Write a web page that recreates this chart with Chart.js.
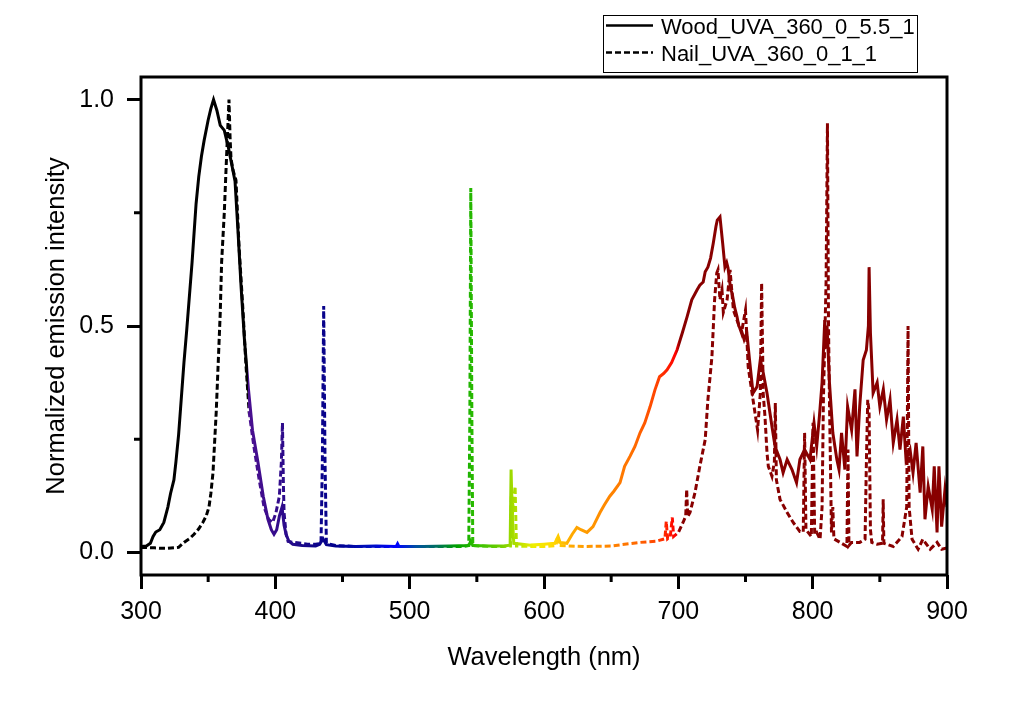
<!DOCTYPE html>
<html>
<head>
<meta charset="utf-8">
<script src="https://cdn.jsdelivr.net/npm/chart.js@4.4.1/dist/chart.umd.min.js"></script>
<style>
  body { margin: 0; background: #fff; }
  #wrap { width: 1028px; height: 720px; }
</style>
</head>
<body>
<div id="wrap"><canvas id="spektrum"></canvas></div>
<script>
// Wood lamp (solid) - [wavelength nm, normalized intensity]
const woodSpectrum = [
  [300,0.013],[304,0.014],[307,0.02],[309,0.035],[311,0.045],[314,0.05],[317,0.066],[320,0.1],[322,0.13],[324.5,0.16],
  [326,0.2],[328,0.26],[330,0.34],[332,0.42],[334,0.49],[336,0.565],[338,0.64],[339.5,0.705],[341,0.77],[343,0.83],
  [345,0.875],[347,0.91],[350,0.955],[352,0.98],[354,1.0],[356.5,0.976],[359,0.943],[362,0.932],[365,0.895],[368,0.85],
  [370,0.82],[372,0.72],[374.5,0.587],[377,0.47],[380,0.36],[383,0.27],[387,0.2],[391,0.124],[394.5,0.073],[397,0.05],
  [399,0.04],[401,0.05],[403,0.08],[405,0.1],[406.5,0.06],[408,0.04],[410,0.025],[413,0.018],[420,0.015],[430,0.014],
  [433,0.018],[435.5,0.03],[438,0.017],[445,0.014],[460,0.013],[475,0.014],[490,0.013],[491,0.019],[492,0.013],[510,0.013],
  [530,0.014],[544,0.015],[545.5,0.025],[547,0.015],[560,0.014],[570,0.014],[574.8,0.016],[575.5,0.183],[576.3,0.09],[577.5,0.02],
  [590,0.016],[600,0.018],[608,0.02],[610.5,0.035],[612,0.022],[617,0.02],[621,0.04],[624.5,0.055],[627.5,0.05],[632,0.044],
  [636.5,0.057],[641.7,0.088],[645,0.105],[649,0.124],[652,0.135],[656.6,0.154],[660,0.19],[664,0.212],[667.7,0.234],[671.5,0.264],
  [675,0.286],[679,0.322],[682.6,0.359],[686,0.388],[689,0.395],[691.6,0.403],[695,0.419],[699,0.447],[703,0.485],[706.5,0.52],
  [710,0.558],[714,0.58],[716,0.59],[718.5,0.597],[720,0.62],[722,0.63],[724,0.65],[726,0.683],[728,0.72],[729,0.734],
  [731,0.741],[733,0.683],[734.7,0.63],[736,0.64],[737,0.628],[739,0.58],[740,0.573],[742,0.54],[743.7,0.52],[745,0.5],
  [747,0.49],[749,0.47],[751,0.485],[753,0.425],[755.6,0.352],[758.6,0.366],[761,0.425],[763,0.4],[766,0.352],[769.7,0.278],
  [772,0.234],[775.7,0.205],[778,0.176],[781,0.205],[784.6,0.183],[788,0.154],[790.5,0.205],[794,0.227],[798,0.205],[801,0.286],
  [803,0.234],[805,0.3],[807,0.375],[809,0.513],[810,0.45],[810.7,0.5],[812.5,0.375],[815,0.264],[818,0.205],[819.6,0.183],
  [821.5,0.264],[824,0.183],[826,0.322],[829,0.27],[831.5,0.36],[833,0.212],[835,0.322],[837.6,0.425],[840,0.447],[841.5,0.5],
  [842,0.63],[843,0.485],[845,0.352],[848,0.375],[850,0.322],[852.6,0.36],[855,0.293],[857.6,0.337],[860,0.242],[862.8,0.293],
  [865,0.227],[867.5,0.3],[869.5,0.205],[872.5,0.227],[874.7,0.176],[877,0.242],[880,0.132],[882,0.234],[883.6,0.073],[886,0.146],
  [889,0.095],[890.5,0.19],[892.6,0.044],[894,0.19],[896,0.057],[898.5,0.139],[900,0.1]
];

// Nail (dashed)
const nailSpectrum = [
  [300,0.011],[310,0.01],[315,0.009],[320,0.009],[328,0.011],[332,0.022],[336,0.03],[339.5,0.04],[343,0.052],[346,0.066],
  [348.5,0.08],[350.6,0.1],[352,0.13],[353.6,0.176],[356,0.31],[357.5,0.42],[359,0.53],[360,0.64],[362,0.75],[363.5,0.86],
  [364.5,0.93],[365.5,1.0],[366.3,0.917],[367,0.87],[368.5,0.844],[370.7,0.822],[373,0.675],[376,0.53],[378,0.42],[380.5,0.31],
  [384,0.234],[388,0.16],[391.6,0.1],[395,0.073],[398,0.066],[400.5,0.088],[403,0.124],[404.5,0.2],[405.3,0.286],[406,0.15],
  [406.5,0.088],[408,0.04],[409.5,0.024],[414,0.022],[424,0.018],[430,0.018],[434,0.02],[435,0.2],[436,0.544],[437,0.2],
  [438,0.02],[445,0.015],[460,0.013],[480,0.013],[500,0.013],[520,0.013],[540,0.013],[544,0.015],[544.8,0.3],[545.5,0.805],
  [546.3,0.3],[547,0.015],[560,0.013],[570,0.013],[575,0.014],[575.7,0.13],[577,0.1],[578.5,0.146],[579.5,0.014],[590,0.013],
  [600,0.013],[609,0.015],[610,0.035],[611,0.015],[630,0.013],[650,0.014],[671.5,0.022],[684,0.025],[690,0.03],[691,0.068],
  [692,0.03],[694,0.035],[695.5,0.077],[696.5,0.035],[700,0.044],[703.5,0.066],[705.5,0.08],[706.2,0.139],[707,0.079],[708.7,0.088],
  [712.4,0.132],[716,0.19],[720,0.249],[722,0.337],[725,0.432],[727,0.558],[728.6,0.617],[729.5,0.624],[731,0.558],[732.5,0.58],
  [733.5,0.53],[736.3,0.558],[738.5,0.624],[741,0.535],[743.7,0.513],[747,0.485],[750,0.535],[752,0.41],[755.6,0.337],[759,0.27],
  [761,0.35],[762,0.595],[763.2,0.35],[764.5,0.3],[766,0.22],[767,0.19],[769.7,0.168],[771.5,0.2],[772.2,0.33],[773,0.16],
  [775.7,0.117],[781,0.088],[785.5,0.066],[790.5,0.046],[793,0.045],[794,0.264],[795,0.05],[796.6,0.044],[799,0.035],[800.3,0.286],
  [801.5,0.04],[803,0.044],[805.5,0.029],[807,0.1],[808,0.337],[810,0.6],[811,0.948],[811.8,0.5],[812.5,0.337],[814,0.044],
  [815,0.1],[815.8,0.03],[820.4,0.022],[825.5,0.013],[826.3,0.227],[827,0.015],[829,0.022],[835,0.022],[839,0.029],[840,0.2],
  [841,0.337],[842,0.31],[843,0.05],[844,0.022],[848,0.018],[852,0.02],[852.5,0.117],[853,0.02],[860,0.013],[866.5,0.035],
  [870,0.1],[871,0.5],[871.8,0.1],[874,0.029],[878.5,0.007],[882,0.029],[887.5,0.007],[892.6,0.022],[896,0.007],[900,0.01]
];

const xTicks = [300, 400, 500, 600, 700, 800, 900];
const xMinor = [350, 450, 550, 650, 750, 850];
const yTicks = [0, 0.5, 1.0];
const yMinor = [0.25, 0.75];

// Spektralfarben entlang der x-Achse
const specWl = [300, 379.5, 380, 395, 420, 445, 470, 490, 505, 520, 535, 550, 565, 578, 592, 605, 620, 640, 665, 685, 698, 701, 900];
const specColors = ['#000000', '#000000', '#4a1090', '#3c0c8c', '#1a0a8a', '#00008c', '#0010c0', '#0000ff', '#0050a0', '#007060',
  '#00a000', '#33c000', '#66cc00', '#aadd00', '#eeee00', '#ffdd00', '#ffaa00', '#ff9000', '#ff7000', '#ff4000', '#ff0000', '#880000', '#880000'];

const font = "'Liberation Sans', Arial, sans-serif";

let gradient = null;
let gradientKey = '';
function spectrumColor(context) {
  const chart = context.chart;
  const area = chart.chartArea;
  if (!area) return '#000';
  const key = area.left + '_' + area.right;
  if (!gradient || gradientKey !== key) {
    const xs = chart.scales.x;
    const x0 = xs.getPixelForValue(300);
    const x1 = xs.getPixelForValue(900);
    gradient = chart.ctx.createLinearGradient(x0, 0, x1, 0);
    specWl.forEach((wl, i) => gradient.addColorStop((wl - 300) / 600, specColors[i]));
    gradientKey = key;
  }
  return gradient;
}

// Rahmen, Nebenstriche und Legende
const frameLegend = {
  id: 'frameLegend',
  afterDraw(chart) {
    const ctx = chart.ctx;
    const a = chart.chartArea;
    const xs = chart.scales.x;
    const ys = chart.scales.y;
    ctx.save();
    ctx.strokeStyle = '#000';
    ctx.lineWidth = 3;
    ctx.strokeRect(a.left, a.top, a.right - a.left, a.bottom - a.top);

    ctx.beginPath();
    xMinor.forEach(v => {
      const px = xs.getPixelForValue(v);
      ctx.moveTo(px, a.bottom);
      ctx.lineTo(px, a.bottom + 7);
    });
    yMinor.forEach(v => {
      const py = ys.getPixelForValue(v);
      ctx.moveTo(a.left, py);
      ctx.lineTo(a.left - 7, py);
    });
    ctx.stroke();

    // legend box
    ctx.lineWidth = 1;
    ctx.strokeRect(603.5, 15.5, 314, 57);
    ctx.font = '22px ' + font;
    ctx.fillStyle = '#000';
    ctx.textBaseline = 'alphabetic';
    chart.data.datasets.forEach((ds, i) => {
      const yy = 25.5 + i * 27;
      ctx.lineWidth = 2.5;
      ctx.setLineDash(ds.borderDash || []);
      ctx.beginPath();
      ctx.moveTo(606, yy);
      ctx.lineTo(653, yy);
      ctx.stroke();
      ctx.setLineDash([]);
      ctx.fillText(ds.label, 661, yy + 8);
    });
    ctx.restore();
  }
};

const ctx = document.getElementById('spektrum').getContext('2d');
new Chart(ctx, {
  type: 'line',
  data: {
    datasets: [
      {
        label: 'Wood_UVA_360_0_5.5_1',
        data: woodSpectrum.map(p => ({x: p[0], y: p[1]})),
        borderColor: spectrumColor,
        borderWidth: 3,
        pointRadius: 0,
        tension: 0,
        fill: false
      },
      {
        label: 'Nail_UVA_360_0_1_1',
        data: nailSpectrum.map(p => ({x: p[0], y: p[1]})),
        borderColor: spectrumColor,
        borderWidth: 3,
        borderDash: [6, 3],
        pointRadius: 0,
        tension: 0,
        fill: false
      }
    ]
  },
  options: {
    responsive: true,
    maintainAspectRatio: false,
    animation: false,
    devicePixelRatio: 1,
    layout: {
      padding: {top: 77, right: 81, left: 0, bottom: 0}
    },
    scales: {
      x: {
        type: 'linear',
        min: 300,
        max: 900,
        afterBuildTicks: scale => { scale.ticks = xTicks.map(v => ({value: v})); },
        afterFit: scale => { scale.height = 145; },
        border: {display: false},
        grid: {drawOnChartArea: false, tickLength: 14, tickWidth: 3, tickColor: '#000'},
        ticks: {
          color: '#000',
          padding: 8,
          maxRotation: 0,
          font: {family: font, size: 25}
        },
        title: {
          display: true,
          text: 'Wavelength (nm)',
          color: '#000',
          font: {family: font, size: 25.5},
          padding: {top: 0, bottom: 47}
        }
      },
      y: {
        min: -0.05,
        max: 1.05,
        afterBuildTicks: scale => { scale.ticks = yTicks.map(v => ({value: v})); },
        afterFit: scale => { scale.width = 141; },
        border: {display: false},
        grid: {drawOnChartArea: false, tickLength: 14, tickWidth: 3, tickColor: '#000'},
        ticks: {
          color: '#000',
          padding: 13,
          font: {family: font, size: 25},
          callback: function(value) {
            return value.toFixed(1);
          }
        },
        title: {
          display: true,
          text: 'Normalized emission intensity',
          color: '#000',
          font: {family: font, size: 25.5},
          padding: {top: 42, bottom: 0}
        }
      }
    },
    plugins: {
      legend: {display: false},
      tooltip: {enabled: false}
    }
  },
  plugins: [frameLegend]
});
</script>
</body>
</html>
